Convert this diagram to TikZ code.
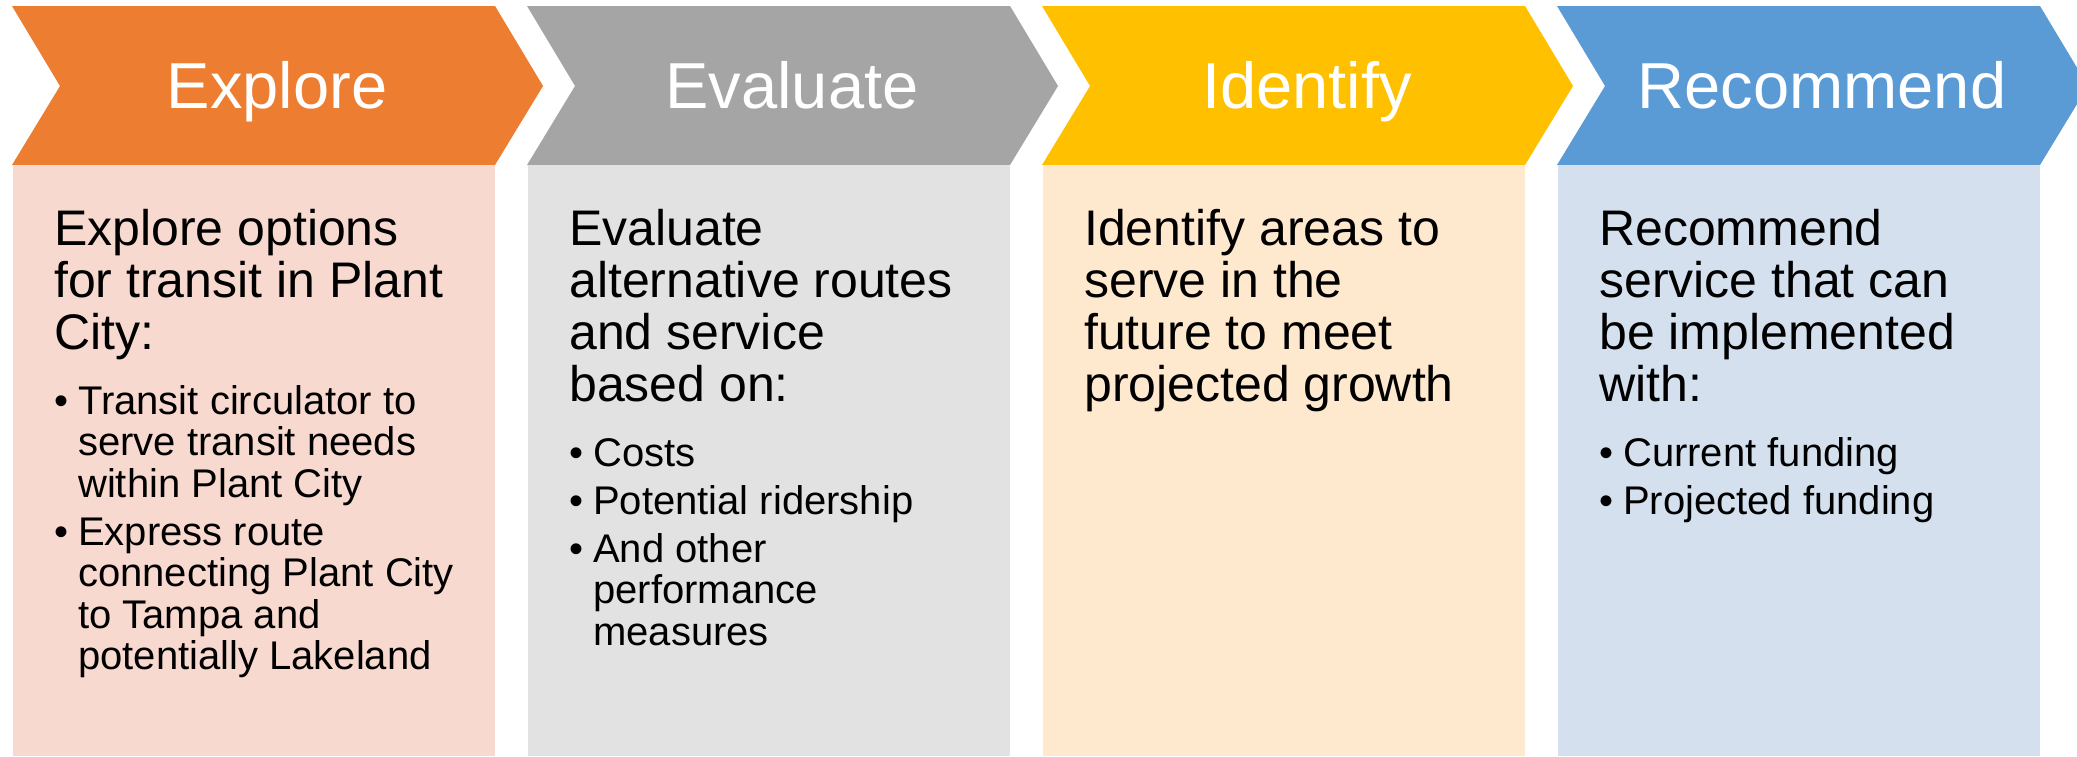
\documentclass[tikz,border=0pt]{standalone}
\usepackage{fontspec}
\setmainfont{Liberation Sans}
\definecolor{c1}{HTML}{ED7D31}
\definecolor{c2}{HTML}{A5A5A5}
\definecolor{c3}{HTML}{FFC000}
\definecolor{c4}{HTML}{5B9BD5}
\definecolor{f1}{HTML}{F8D9CF}
\definecolor{f2}{HTML}{E2E2E2}
\definecolor{f3}{HTML}{FFE9CE}
\definecolor{f4}{HTML}{D5E0EF}
\newcommand\bodylines[3]{%
  \foreach \t [count=\k] in {#3} {\node[body] (#1\k) at (#2,{245+52*(\k-1)}) {\t};}}
\newcommand\bitem[5]{% name, x, y, text, bullet?
  \node[bl] (#1) at ({#2+24},#3) {#4};
  \ifx#5y\node[bl] (#1d) at (#2,#3) {•};\fi}
\begin{document}
\begin{tikzpicture}[x=1pt,y=-1pt,
  hd/.style={text=white,font=\fontsize{65}{70}\selectfont,inner sep=0pt,anchor=base},
  body/.style={font=\fontsize{50}{52}\selectfont,inner sep=0pt,anchor=base west},
  bl/.style={font=\fontsize{40}{42}\selectfont,inner sep=0pt,anchor=base west}]
\useasboundingbox (0,0) rectangle (2077,756);
\clip (0,0) rectangle (2077,756);
\fill[white] (0,0) rectangle (2077,756);
\foreach \L/\c/\f in {12/c1/f1, 527/c2/f2, 1042/c3/f3, 1557/c4/f4} {
  \fill[\c] (\L,6) -- ({\L+483},6) -- ({\L+531},86) -- ({\L+483},165) -- (\L,165) -- ({\L+48},86) -- cycle;
  \fill[\f] ({\L+1},165) rectangle ({\L+483},756);
}
\node[hd] (h1) at (277,108) {Explore};
\node[hd] (h2) at (792,108) {Evaluate};
\node[hd] (h3) at (1307,108) {Identify};
\node[hd] (h4) at (1822,108) {Recommend};
% column 1
\bodylines{a}{54}{Explore options, for transit in Plant, City:}
\bitem{a4}{54}{414}{Transit circulator to}{y}
\bitem{a5}{54}{455.5}{serve transit needs}{n}
\bitem{a6}{54}{497}{within Plant City}{n}
\bitem{a7}{54}{545}{Express route}{y}
\bitem{a8}{54}{586.5}{connecting Plant City}{n}
\bitem{a9}{54}{628}{to Tampa and}{n}
\bitem{a10}{54}{669.5}{potentially Lakeland}{n}
% column 2
\bodylines{b}{569}{Evaluate, alternative routes, and service, based on:}
\bitem{b5}{569}{466}{Costs}{y}
\bitem{b6}{569}{514}{Potential ridership}{y}
\bitem{b7}{569}{562}{And other}{y}
\bitem{b8}{569}{603.5}{performance}{n}
\bitem{b9}{569}{645}{measures}{n}
% column 3
\bodylines{c}{1084}{Identify areas to, serve in the, future to meet, projected growth}
% column 4
\bodylines{d}{1599}{Recommend, service that can, be implemented, with:}
\bitem{d5}{1599}{466}{Current funding}{y}
\bitem{d6}{1599}{514}{Projected funding}{y}
\end{tikzpicture}
\end{document}
